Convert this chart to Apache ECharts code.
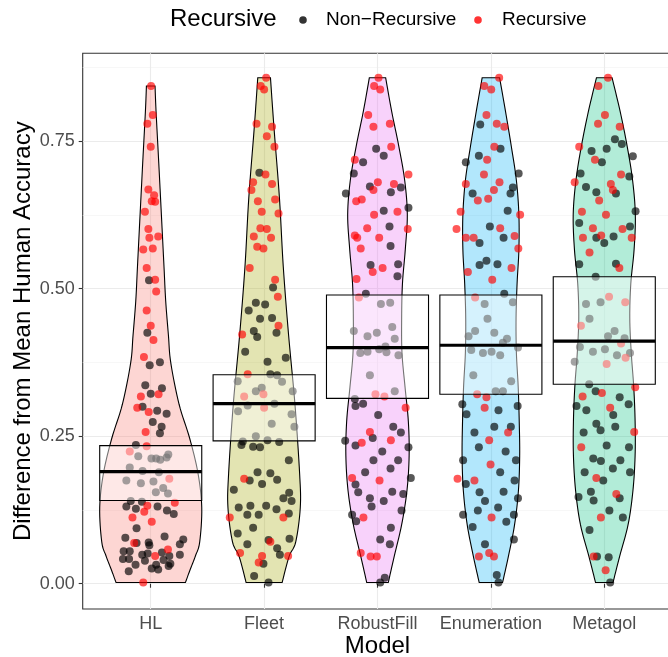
<!DOCTYPE html>
<html><head><meta charset="utf-8">
<script src="https://cdn.jsdelivr.net/npm/echarts@6/dist/echarts.min.js"></script>
<style>html,body{margin:0;padding:0;background:#fff}#c{width:668px;height:657px}</style>
</head><body><div id="c"></div>
<script>
const categories = ['HL', 'Fleet', 'RobustFill', 'Enumeration', 'Metagol'];
const yTicks = [0, 0.25, 0.5, 0.75];
const yMinorTicks = [0.125, 0.375, 0.625, 0.875];
const xTicks = [1, 2, 3, 4, 5];
const fillColors = ['#F8766D', '#A3A500', '#E76BF3', '#00B0F6', '#00BF7D'];

// crossbar summaries per model
const boxLower = [0.141, 0.242, 0.314, 0.321, 0.338];
const boxMean  = [0.190, 0.305, 0.400, 0.404, 0.411];
const boxUpper = [0.234, 0.354, 0.489, 0.489, 0.520];

// violin density profiles: levels (value) and half-widths (category units)
const hlLevels = [0.843,0.800,0.712,0.625,0.537,0.479,0.421,0.374,0.304,0.246,0.187,0.129,0.071,0.047,0.022,0.002];
const hlWidths = [0.038,0.047,0.071,0.094,0.117,0.132,0.156,0.177,0.250,0.344,0.417,0.450,0.432,0.394,0.344,0.306];
const fleetLevels = [0.857,0.770,0.654,0.537,0.421,0.304,0.187,0.129,0.071,0.046,0.002];
const fleetWidths = [0.056,0.088,0.135,0.169,0.216,0.272,0.313,0.319,0.279,0.220,0.159];
const robustLevels = [0.857,0.800,0.741,0.683,0.625,0.566,0.508,0.450,0.391,0.333,0.275,0.217,0.158,0.100,0.046,0.002];
const robustWidths = [0.072,0.125,0.188,0.240,0.263,0.245,0.220,0.213,0.216,0.243,0.272,0.279,0.260,0.213,0.147,0.095];
const enumLevels = [0.857,0.800,0.741,0.683,0.625,0.566,0.508,0.450,0.391,0.333,0.275,0.217,0.158,0.100,0.046,0.002];
const enumWidths = [0.077,0.129,0.180,0.225,0.247,0.247,0.231,0.222,0.225,0.241,0.250,0.254,0.243,0.209,0.154,0.103];
const metaLevels = [0.857,0.800,0.741,0.683,0.625,0.566,0.508,0.450,0.391,0.333,0.275,0.217,0.158,0.100,0.046,0.002];
const metaWidths = [0.069,0.140,0.202,0.250,0.274,0.263,0.234,0.225,0.238,0.260,0.272,0.272,0.253,0.210,0.135,0.077];

// points: [jitter offset, value]
const hlRec = [[0.003,0.843],[0.018,0.794],[-0.030,0.779],[0,0.740],[-0.021,0.668],[0.030,0.658],[0.009,0.648],[0.039,0.647],[-0.051,0.630],[-0.021,0.601],[-0.012,0.586],[0.066,0.588],[-0.066,0.566],[0.018,0.568],[-0.036,0.535],[0.039,0.515],[0.048,0.495],[-0.036,0.463],[0,0.437],[0.024,0.413],[-0.060,0.384],[-0.087,0.317],[0.069,0.321],[-0.119,0.298],[-0.018,0.291],[-0.045,0.257],[-0.036,0.233],[-0.185,0.224],[0.164,0.178],[-0.030,0.132],[0.212,0.137],[-0.057,0.122],[-0.161,0.112],[0.009,0.105],[-0.146,0.069],[0.152,0.058],[0.039,0.047],[-0.066,0.002]];
const hlNonRec = [[-0.015,0.514],[-0.030,0.425],[-0.009,0.370],[0.081,0.375],[-0.048,0.336],[0,0.322],[0.099,0.331],[-0.072,0.300],[0.057,0.293],[0.140,0.288],[0.018,0.274],[0.096,0.266],[0.081,0.255],[-0.131,0.235],[-0.110,0.216],[0.006,0.212],[0.048,0.212],[0.140,0.214],[0.155,0.219],[0.084,0.210],[-0.185,0.197],[-0.072,0.191],[0.072,0.189],[-0.215,0.175],[-0.087,0.170],[0.024,0.173],[0.110,0.162],[0.045,0.155],[0.152,0.153],[-0.176,0.140],[-0.078,0.139],[-0.215,0.131],[-0.131,0.127],[0.060,0.131],[0.143,0.124],[0.203,0.118],[-0.125,0.094],[-0.224,0.078],[0.122,0.080],[0.287,0.075],[-0.125,0.069],[-0.018,0.070],[0.257,0.067],[-0.012,0.065],[-0.239,0.055],[-0.185,0.055],[-0.075,0.049],[-0.027,0.051],[0.099,0.053],[0.164,0.047],[0.257,0.049],[-0.245,0.042],[-0.191,0.042],[-0.051,0.039],[0.113,0.040],[-0.134,0.032],[0.048,0.032],[0.173,0.034],[0.158,0.030],[-0.194,0.021],[0.009,0.026],[0.066,0.024]];
const fleetRec = [[0.018,0.857],[-0.030,0.843],[0,0.837],[-0.067,0.779],[0.070,0.774],[0.024,0.758],[0.091,0.740],[0.012,0.693],[-0.097,0.680],[0.070,0.677],[-0.112,0.667],[-0.055,0.648],[0.097,0.651],[-0.021,0.630],[0.127,0.627],[-0.033,0.602],[0.024,0.601],[-0.091,0.588],[0.061,0.586],[-0.061,0.571],[-0.006,0.568],[-0.127,0.535],[0.097,0.515],[0.121,0.486],[0.127,0.437],[-0.194,0.422],[-0.145,0.355],[-0.176,0.317],[-0.006,0.321],[0,0.298],[-0.176,0.178],[-0.303,0.112],[0.170,0.112],[0.055,0.071],[-0.212,0.052],[-0.018,0.047],[-0.048,0.036],[0.212,0.047]];
const fleetNonRec = [[-0.042,0.696],[0.079,0.502],[-0.073,0.476],[0.009,0.473],[-0.136,0.463],[-0.036,0.449],[0.070,0.450],[-0.091,0.428],[-0.061,0.418],[0.109,0.425],[-0.167,0.393],[0.191,0.383],[0.030,0.376],[0.055,0.355],[0.115,0.353],[-0.233,0.343],[0.158,0.342],[-0.073,0.326],[-0.021,0.332],[0.252,0.326],[0.091,0.305],[-0.230,0.292],[-0.145,0.302],[0.242,0.287],[0.067,0.271],[0.267,0.266],[-0.073,0.250],[-0.188,0.241],[-0.200,0.235],[-0.097,0.232],[-0.036,0.231],[0.030,0.243],[0.133,0.240],[0.218,0.209],[-0.058,0.189],[0.055,0.187],[-0.127,0.175],[-0.018,0.169],[0.115,0.176],[-0.267,0.159],[0.221,0.154],[0.170,0.145],[0.242,0.140],[-0.224,0.129],[-0.121,0.132],[0.018,0.132],[0.109,0.126],[-0.148,0.117],[-0.048,0.117],[0.218,0.119],[-0.097,0.095],[-0.233,0.085],[0.224,0.076],[0.039,0.074],[-0.148,0.067],[0.115,0.060],[0.139,0.049],[-0.006,0.034],[-0.088,0.013],[0.039,0.002]];
const robustRec = [[0.009,0.857],[-0.030,0.843],[0.024,0.837],[-0.082,0.794],[-0.036,0.774],[0.109,0.779],[0.121,0.740],[-0.200,0.718],[0.273,0.693],[0.003,0.680],[-0.036,0.667],[0.145,0.677],[-0.139,0.651],[-0.188,0.648],[-0.030,0.625],[0.176,0.630],[-0.091,0.602],[0.267,0.601],[-0.200,0.590],[-0.179,0.586],[0.015,0.586],[-0.148,0.568],[-0.042,0.528],[0.045,0.535],[-0.185,0.516],[-0.164,0.485],[-0.018,0.321],[0.061,0.317],[0.248,0.298],[-0.067,0.257],[-0.139,0.239],[0.118,0.243],[-0.224,0.179],[0.018,0.175],[-0.124,0.112],[-0.148,0.052],[-0.061,0.046],[-0.006,0.046]];
const robustNonRec = [[-0.012,0.737],[0.055,0.725],[-0.127,0.714],[-0.209,0.695],[-0.067,0.673],[0.206,0.671],[0.118,0.663],[-0.279,0.661],[0.055,0.632],[0.273,0.637],[0.106,0.605],[0.115,0.572],[-0.061,0.540],[0.182,0.541],[0.176,0.521],[-0.103,0.491],[0.030,0.474],[0.112,0.476],[-0.209,0.428],[-0.088,0.419],[-0.006,0.425],[0.130,0.435],[0.152,0.415],[-0.152,0.391],[-0.088,0.393],[0.015,0.397],[0.070,0.402],[0.079,0.392],[0.185,0.387],[-0.067,0.353],[0.152,0.326],[-0.200,0.313],[-0.194,0.301],[-0.127,0.305],[0.006,0.286],[0.139,0.266],[0.206,0.256],[-0.285,0.242],[-0.194,0.234],[-0.042,0.247],[0.273,0.231],[0.042,0.224],[-0.036,0.209],[0.182,0.209],[-0.109,0.189],[0.115,0.195],[0.294,0.179],[-0.194,0.168],[-0.170,0.155],[0.130,0.156],[-0.067,0.145],[0.055,0.140],[0.227,0.152],[-0.052,0.131],[0.212,0.124],[-0.224,0.117],[-0.188,0.106],[0.118,0.095],[0.024,0.075],[0.109,0.067],[0.024,0.002],[0.064,0.010]];
const enumRec = [[0.073,0.857],[-0.058,0.843],[0.003,0.837],[-0.039,0.794],[0.052,0.779],[0.118,0.774],[0.030,0.740],[-0.033,0.718],[-0.061,0.693],[0.076,0.680],[0.027,0.667],[-0.221,0.677],[-0.115,0.649],[-0.024,0.652],[-0.267,0.630],[0.258,0.625],[-0.303,0.601],[0.082,0.602],[-0.221,0.586],[-0.152,0.586],[0.209,0.589],[0.242,0.568],[-0.203,0.528],[0.182,0.535],[0.012,0.515],[-0.139,0.485],[-0.121,0.321],[-0.039,0.316],[-0.055,0.298],[0.152,0.256],[-0.015,0.243],[-0.003,0.202],[-0.294,0.178],[-0.145,0.175],[0.006,0.112],[-0.106,0.046],[-0.015,0.052],[0.027,0.046]];
const enumNonRec = [[-0.094,0.778],[0.085,0.737],[-0.106,0.725],[-0.221,0.714],[0.245,0.695],[-0.161,0.661],[0.194,0.671],[0.173,0.661],[0.148,0.632],[-0.009,0.605],[0.112,0.586],[-0.100,0.577],[-0.100,0.540],[-0.039,0.547],[0.058,0.541],[0.118,0.491],[0.194,0.477],[-0.055,0.474],[-0.030,0.449],[-0.139,0.428],[0.030,0.425],[-0.197,0.419],[0.142,0.415],[0.106,0.408],[-0.173,0.396],[-0.070,0.391],[0.006,0.393],[0.082,0.387],[0.239,0.400],[-0.155,0.353],[0.179,0.343],[0.042,0.326],[0.106,0.326],[-0.252,0.304],[-0.215,0.287],[0.067,0.294],[0.236,0.301],[-0.145,0.256],[0.030,0.266],[0.176,0.266],[-0.106,0.231],[0.130,0.224],[-0.245,0.209],[0.221,0.209],[0.082,0.189],[-0.221,0.169],[0.209,0.175],[-0.100,0.155],[0.112,0.156],[0.239,0.145],[-0.052,0.140],[-0.115,0.124],[0.064,0.129],[-0.245,0.117],[0.203,0.117],[-0.161,0.096],[0.136,0.105],[0.203,0.075],[-0.052,0.067],[0.052,0.015],[0.067,0.002]];
const metaRec = [[0.033,0.857],[-0.052,0.843],[0.006,0.794],[-0.055,0.779],[0.136,0.774],[-0.221,0.740],[-0.082,0.718],[0.148,0.693],[-0.261,0.680],[0.058,0.677],[0.076,0.667],[-0.045,0.649],[-0.197,0.630],[0.015,0.625],[-0.100,0.602],[0.161,0.601],[-0.027,0.590],[-0.188,0.586],[0.242,0.586],[-0.130,0.561],[0.133,0.535],[0.042,0.486],[0.185,0.477],[-0.206,0.437],[0.148,0.407],[0.188,0.383],[0.021,0.372],[0.273,0.333],[-0.191,0.317],[-0.021,0.323],[0.052,0.298],[0.264,0.257],[-0.203,0.231],[-0.070,0.179],[0.106,0.152],[-0.030,0.112],[-0.094,0.046],[0.012,0.023]];
const metaNonRec = [[0.094,0.753],[0.155,0.745],[-0.112,0.733],[0.021,0.737],[0.252,0.724],[-0.021,0.714],[-0.209,0.695],[0.221,0.690],[-0.161,0.672],[-0.070,0.663],[0.103,0.661],[0.276,0.631],[-0.221,0.611],[0.227,0.605],[-0.070,0.586],[0,0.577],[0.082,0.588],[-0.221,0.541],[0.103,0.542],[-0.076,0.520],[-0.161,0.474],[-0.033,0.477],[-0.130,0.449],[0.091,0.428],[0.033,0.419],[0.179,0.416],[-0.215,0.401],[-0.100,0.393],[0.006,0.397],[0.112,0.387],[0.227,0.391],[-0.261,0.376],[-0.133,0.338],[-0.076,0.326],[0.136,0.316],[-0.245,0.301],[-0.158,0.294],[0.215,0.304],[0.079,0.286],[-0.070,0.271],[-0.033,0.260],[0.097,0.266],[-0.182,0.256],[0.218,0.231],[0.021,0.234],[-0.097,0.212],[-0.030,0.208],[0.142,0.209],[-0.173,0.189],[0.076,0.195],[0.227,0.189],[-0.009,0.175],[-0.118,0.156],[0.136,0.145],[-0.227,0.147],[-0.094,0.141],[0.045,0.124],[0.164,0.112],[-0.130,0.091],[-0.064,0.046],[0.039,0.045],[0.052,0.002]];

const violinLevels = [hlLevels, fleetLevels, robustLevels, enumLevels, metaLevels];
const violinWidths = [hlWidths, fleetWidths, robustWidths, enumWidths, metaWidths];
const recPoints = [hlRec, fleetRec, robustRec, enumRec, metaRec];
const nonRecPoints = [hlNonRec, fleetNonRec, robustNonRec, enumNonRec, metaNonRec];

const FONT = "'Liberation Sans', Arial, Helvetica, sans-serif";
const Y_MIN = -0.0428, Y_MAX = 0.8985;

function toXY(groups) {
  const out = [];
  groups.forEach((g, i) => g.forEach(p => out.push([i + 1 + p[0], p[1]])));
  return out;
}

// smooth outline through screen points (Catmull-Rom sampling, render only)
function smoothLine(p) {
  const out = [p[0]];
  const n = p.length;
  for (let i = 0; i < n - 1; i++) {
    const p0 = p[Math.max(i - 1, 0)], p1 = p[i], p2 = p[i + 1], p3 = p[Math.min(i + 2, n - 1)];
    for (let s = 1; s <= 8; s++) {
      const t = s / 8, t2 = t * t, t3 = t2 * t;
      const f = k => 0.5 * ((2 * p1[k]) + (-p0[k] + p2[k]) * t + (2 * p0[k] - 5 * p1[k] + 4 * p2[k] - p3[k]) * t2 + (-p0[k] + 3 * p1[k] - 3 * p2[k] + p3[k]) * t3);
      out.push([f(0), f(1)]);
    }
  }
  return out;
}

const chart = echarts.init(document.getElementById('c'), null, { renderer: 'canvas' });

const option = {
  animation: false,
  backgroundColor: '#ffffff',
  textStyle: { fontFamily: FONT },
  grid: {
    left: 82.7, top: 53.3, width: 589.6, height: 555.7,
    show: true, borderColor: '#333333', borderWidth: 1.1, backgroundColor: '#ffffff',
    outerBoundsMode: 'none', containLabel: false
  },
  xAxis: {
    type: 'value', min: 0.4, max: 5.6,
    name: 'Model', nameLocation: 'middle', nameGap: 25, nameMoveOverlap: false,
    nameTextStyle: { fontSize: 24, color: '#000', fontFamily: FONT, verticalAlign: 'top' },
    axisLine: { show: false },
    axisTick: { show: true, length: 4, lineStyle: { color: '#333333', width: 1.1 }, customValues: xTicks },
    axisLabel: { show: true, customValues: xTicks, margin: 6, fontSize: 18, color: '#4D4D4D', fontFamily: FONT,
      formatter: v => categories[Math.round(v) - 1] },
    splitLine: { show: true, lineStyle: { color: '#EBEBEB', width: 1.1 } }
  },
  yAxis: [{
    type: 'value', min: Y_MIN, max: Y_MAX,
    name: 'Difference from Mean Human Accuracy', nameLocation: 'middle', nameGap: 47, nameMoveOverlap: false,
    nameTextStyle: { fontSize: 24, color: '#000', fontFamily: FONT },
    axisLine: { show: false },
    axisTick: { show: true, length: 4, lineStyle: { color: '#333333', width: 1.1 }, customValues: yTicks },
    axisLabel: { show: true, customValues: yTicks, margin: 8, fontSize: 18, color: '#4D4D4D', fontFamily: FONT,
      formatter: v => v.toFixed(2) },
    splitLine: { show: true, lineStyle: { color: '#EBEBEB', width: 1.1 } }
  }, {
    type: 'value', min: Y_MIN, max: Y_MAX, position: 'left',
    axisLine: { show: false },
    axisTick: { show: false, customValues: yMinorTicks },
    axisLabel: { show: false, customValues: yMinorTicks },
    splitLine: { show: true, lineStyle: { color: '#F2F2F2', width: 0.6 } }
  }],
  graphic: [
    { type: 'text', left: 170, top: 7, style: { text: 'Recursive', fontSize: 24, fill: '#000', fontFamily: FONT } },
    { type: 'circle', shape: { cx: 303, cy: 20, r: 3.8 }, style: { fill: 'rgba(0,0,0,0.8)' } },
    { type: 'text', left: 326, top: 10, style: { text: 'Non\u2212Recursive', fontSize: 19, fill: '#000', fontFamily: FONT } },
    { type: 'circle', shape: { cx: 478, cy: 20, r: 3.8 }, style: { fill: 'rgba(255,0,0,0.8)' } },
    { type: 'text', left: 502, top: 10, style: { text: 'Recursive', fontSize: 19, fill: '#000', fontFamily: FONT } }
  ],
  series: [
    {
      type: 'custom', name: 'violin', z: 1, silent: true,
      data: categories.map((c, i) => [i]),
      renderItem: (params, api) => {
        const i = api.value(0);
        const cx = i + 1;
        const lv = violinLevels[i], w = violinWidths[i];
        const right = smoothLine(lv.map((v, k) => api.coord([cx + w[k], v])));
        const left = smoothLine(lv.map((v, k) => api.coord([cx - w[k], v])).reverse());
        return {
          type: 'polygon',
          shape: { points: right.concat(left) },
          style: { fill: echarts.color.modifyAlpha(fillColors[i], 0.3), stroke: '#000', lineWidth: 1.1 }
        };
      }
    },
    {
      type: 'scatter', name: 'Non\u2212Recursive', z: 2, silent: true,
      symbol: 'circle', symbolSize: 8,
      itemStyle: { color: 'rgba(0,0,0,0.82)' },
      data: toXY(nonRecPoints)
    },
    {
      type: 'scatter', name: 'Recursive', z: 3, silent: true,
      symbol: 'circle', symbolSize: 8,
      itemStyle: { color: 'rgba(255,0,0,0.82)' },
      data: toXY(recPoints)
    },
    {
      type: 'custom', name: 'summary', z: 4, silent: true,
      data: categories.map((c, i) => [i, boxLower[i], boxMean[i], boxUpper[i]]),
      renderItem: (params, api) => {
        const i = api.value(0), cx = i + 1;
        const tl = api.coord([cx - 0.45, api.value(3)]);
        const br = api.coord([cx + 0.45, api.value(1)]);
        const ml = api.coord([cx - 0.45, api.value(2)]);
        const mr = api.coord([cx + 0.45, api.value(2)]);
        return {
          type: 'group',
          children: [
            { type: 'rect', shape: { x: tl[0], y: tl[1], width: br[0] - tl[0], height: br[1] - tl[1] },
              style: { fill: 'rgba(255,255,255,0.45)', stroke: '#000', lineWidth: 1.1 } },
            { type: 'line', shape: { x1: ml[0], y1: ml[1], x2: mr[0], y2: mr[1] },
              style: { stroke: '#000', lineWidth: 3.2 } }
          ]
        };
      }
    }
  ]
};
chart.setOption(option);
</script>
</body></html>
